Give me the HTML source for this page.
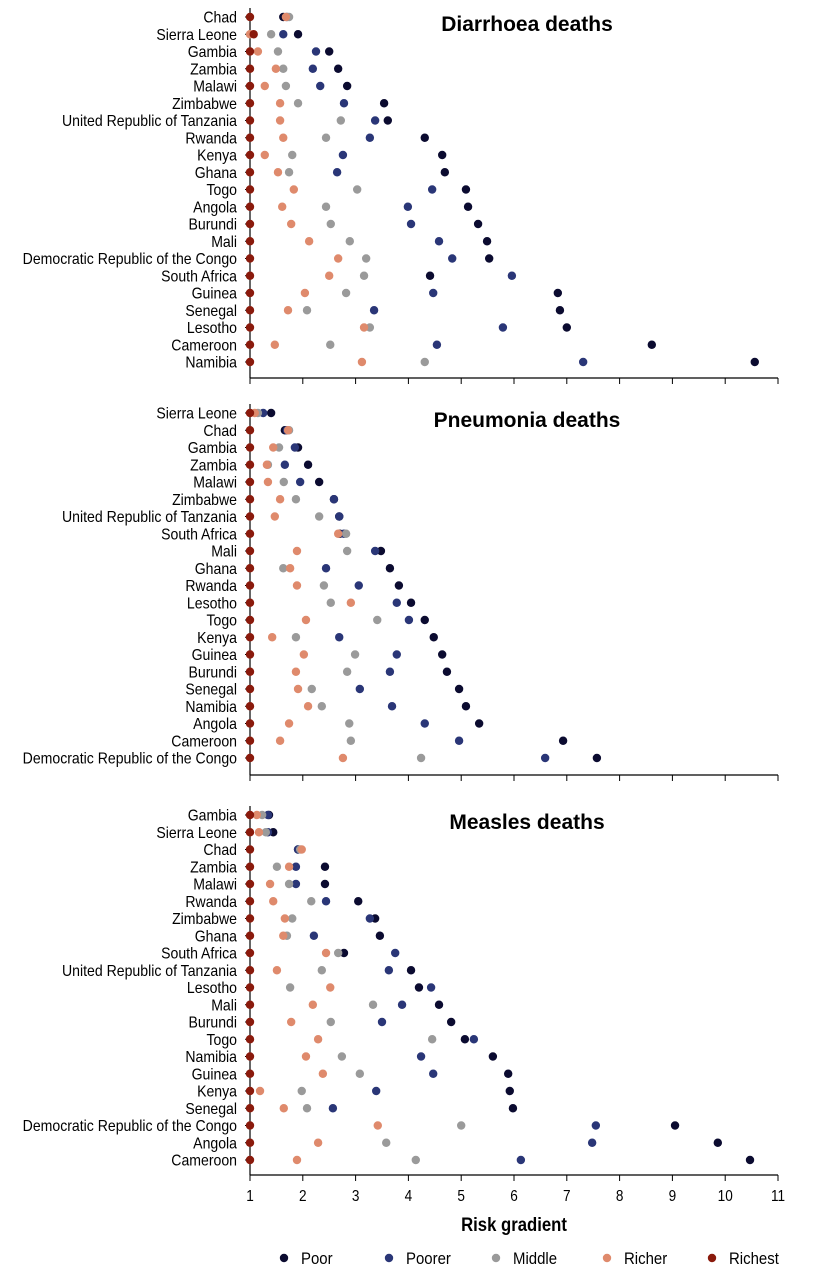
<!DOCTYPE html>
<html><head><meta charset="utf-8">
<style>
body{margin:0;background:#fff;}
svg text{font-family:"Liberation Sans Narrow","Liberation Sans",sans-serif;}
</style></head>
<body>
<svg id="chart" width="815" height="1275" xmlns="http://www.w3.org/2000/svg"></svg>
<script>
const ticks=[1,2,3,4,5,6,7,8,9,10,11];
const groups=["Poor","Poorer","Middle","Richer","Richest"];
const colors=["#0b0b30","#2a3677","#9a9a9a","#df8a6c","#8a1a0c"];
const diarCountries=["Chad","Sierra Leone","Gambia","Zambia","Malawi","Zimbabwe","United Republic of Tanzania","Rwanda","Kenya","Ghana","Togo","Angola","Burundi","Mali","Democratic Republic of the Congo","South Africa","Guinea","Senegal","Lesotho","Cameroon","Namibia"];
const diarPoor=[1.63,1.91,2.50,2.67,2.84,3.54,3.61,4.31,4.64,4.69,5.09,5.13,5.32,5.49,5.53,4.41,6.83,6.87,7.00,8.61,10.56];
const diarPoorer=[1.70,1.63,2.25,2.19,2.33,2.78,3.37,3.27,2.76,2.65,4.45,3.99,4.05,4.58,4.83,5.96,4.47,3.35,5.79,4.54,7.31];
const diarMiddle=[1.74,1.40,1.53,1.63,1.68,1.91,2.72,2.44,1.80,1.74,3.03,2.44,2.53,2.89,3.20,3.16,2.82,2.08,3.27,2.52,4.31];
const diarRicher=[1.68,1.00,1.15,1.49,1.28,1.57,1.57,1.63,1.28,1.53,1.83,1.61,1.78,2.12,2.67,2.50,2.04,1.72,3.16,1.47,3.12];
const diarRichest=[1,1.07,1,1,1,1,1,1,1,1,1,1,1,1,1,1,1,1,1,1,1];
const pneuCountries=["Sierra Leone","Chad","Gambia","Zambia","Malawi","Zimbabwe","United Republic of Tanzania","South Africa","Mali","Ghana","Rwanda","Lesotho","Togo","Kenya","Guinea","Burundi","Senegal","Namibia","Angola","Cameroon","Democratic Republic of the Congo"];
const pneuPoor=[1.40,1.66,1.91,2.10,2.31,2.59,2.69,2.70,3.48,3.65,3.82,4.05,4.31,4.48,4.64,4.73,4.96,5.09,5.34,6.93,7.57];
const pneuPoorer=[1.25,1.70,1.85,1.66,1.95,2.59,2.69,2.78,3.37,2.44,3.06,3.78,4.01,2.69,3.78,3.65,3.08,3.69,4.31,4.96,6.59];
const pneuMiddle=[1.15,1.74,1.55,1.34,1.64,1.87,2.31,2.82,2.84,1.63,2.40,2.53,3.41,1.87,2.99,2.84,2.17,2.36,2.88,2.91,4.24];
const pneuRicher=[1.09,1.72,1.44,1.32,1.34,1.57,1.47,2.67,1.89,1.76,1.89,2.91,2.06,1.42,2.02,1.87,1.91,2.10,1.74,1.57,2.76];
const pneuRichest=[1,1,1,1,1,1,1,1,1,1,1,1,1,1,1,1,1,1,1,1,1];
const measCountries=["Gambia","Sierra Leone","Chad","Zambia","Malawi","Rwanda","Zimbabwe","Ghana","South Africa","United Republic of Tanzania","Lesotho","Mali","Burundi","Togo","Namibia","Guinea","Kenya","Senegal","Democratic Republic of the Congo","Angola","Cameroon"];
const measPoor=[1.36,1.44,1.91,2.42,2.42,3.05,3.37,3.46,2.78,4.05,4.20,4.58,4.81,5.07,5.60,5.89,5.92,5.98,9.05,9.86,10.47];
const measPoorer=[1.34,1.34,1.91,1.87,1.87,2.44,3.27,2.21,3.75,3.63,4.43,3.88,3.50,5.24,4.24,4.47,3.39,2.57,7.55,7.48,6.13];
const measMiddle=[1.23,1.30,1.95,1.51,1.74,2.16,1.80,1.70,2.67,2.36,1.76,3.33,2.53,4.45,2.74,3.08,1.98,2.08,5.00,3.58,4.14];
const measRicher=[1.13,1.17,1.98,1.74,1.38,1.44,1.66,1.63,2.44,1.51,2.52,2.19,1.78,2.29,2.06,2.38,1.19,1.64,3.42,2.29,1.89];
const measRichest=[1,1,1,1,1,1,1,1,1,1,1,1,1,1,1,1,1,1,1,1,1];

const svg=document.getElementById('chart');
const NS="http://www.w3.org/2000/svg";
function mk(t,a){const e=document.createElementNS(NS,t);for(const k in a)e.setAttribute(k,a[k]);svg.appendChild(e);return e;}
const x=v=>250+(v-1)*52.8;
const panels=[
 {title:"Diarrhoea deaths",c:diarCountries,s:[diarPoor,diarPoorer,diarMiddle,diarRicher,diarRichest],y0:17,axis:378,top:8,name:"diarrhoea"},
 {title:"Pneumonia deaths",c:pneuCountries,s:[pneuPoor,pneuPoorer,pneuMiddle,pneuRicher,pneuRichest],y0:413,axis:775,top:404,name:"pneumonia"},
 {title:"Measles deaths",c:measCountries,s:[measPoor,measPoorer,measMiddle,measRicher,measRichest],y0:815,axis:1175,top:806,name:"measles"}
];
const step=17.25;
panels.forEach((p,pi)=>{
 let t=mk('text',{x:0,y:0,'font-size':21,'font-weight':'bold','text-anchor':'middle',fill:'#000',transform:'translate(527,'+(p.y0+14)+') scale(1.0,1)'});
 t.textContent=p.title;
 
 
 let ya=mk('line',{x1:250,y1:p.top,x2:250,y2:p.axis,stroke:'#000','stroke-width':1.2});
 
 
 let xa=mk('line',{x1:250,y1:p.axis,x2:x(11),y2:p.axis,stroke:'#000','stroke-width':1.2});
 
 
 ticks.forEach(v=>{
  let tk=mk('line',{x1:x(v),y1:p.axis,x2:x(v),y2:p.axis+6,stroke:'#000','stroke-width':1});
  
  
  if(pi===2){
   let tl=mk('text',{x:0,y:0,'font-size':16,'text-anchor':'middle',fill:'#000',transform:'translate('+x(v)+','+(p.axis+26)+') scale(0.85,1)'});
   tl.textContent=v;
   
   
  }
 });
 p.c.forEach((c,i)=>{
  const y=p.y0+i*step;
  let tk=mk('line',{x1:245,y1:y,x2:250,y2:y,stroke:'#000','stroke-width':1});
  
  
  let lb=mk('text',{x:0,y:0,'font-size':16,'text-anchor':'end',fill:'#000',transform:'translate(237,'+(y+5.5)+') scale(0.88,1)'});
  lb.textContent=c;
  
  
  for(let g=0;g<5;g++){
   let d=mk('circle',{cx:x(p.s[g][i]),cy:y,r:4.2,fill:colors[g]});
   
   
  }
 });
});
let at=mk('text',{x:0,y:0,'font-size':19,'font-weight':'bold','text-anchor':'middle',fill:'#000',transform:'translate(514,1231) scale(0.88,1)'});
at.textContent="Risk gradient";


const lx=[284,389,496,607,712];
groups.forEach((g,i)=>{
 let d=mk('circle',{cx:lx[i],cy:1258,r:4.2,fill:colors[i]});
 
 
 let t=mk('text',{x:0,y:0,'font-size':17,fill:'#000',transform:'translate('+(lx[i]+17)+',1264) scale(0.88,1)'});
 t.textContent=g;
 
 
});
</script>
</body></html>
